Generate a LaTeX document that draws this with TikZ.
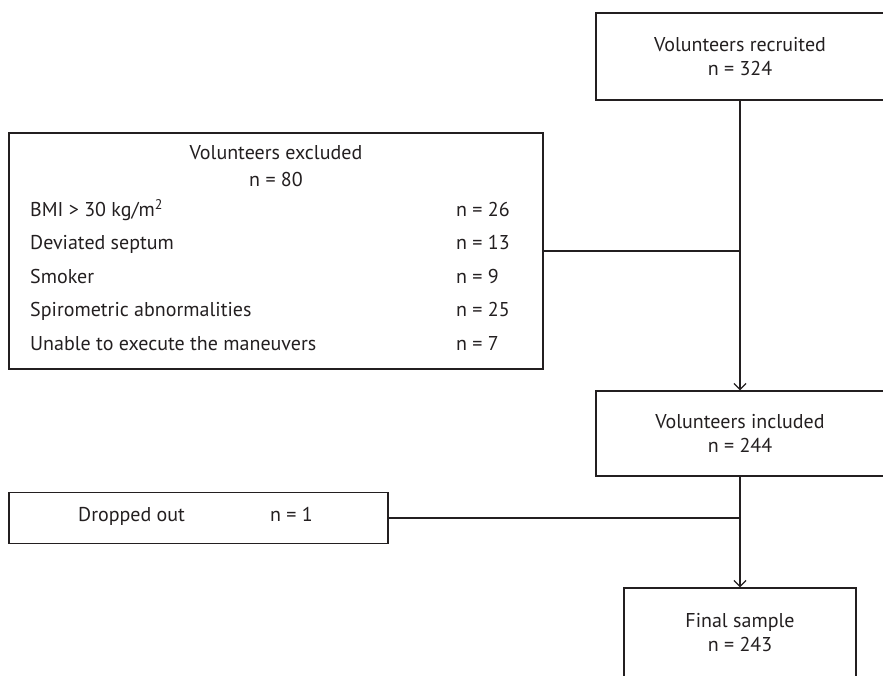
\documentclass[tikz,border=0pt]{standalone}
\usepackage{fontspec}
\setmainfont{PT Sans}
\usepackage{xcolor}
\definecolor{ink}{HTML}{231F20}
\usetikzlibrary{arrows.meta,positioning}

\begin{document}
\begin{tikzpicture}[
  x=1pt, y=-1pt,
  font=\fontsize{20}{24}\selectfont,
  box/.style={
    rectangle, draw=ink, line width=1.3pt,
    inner sep=0pt, align=center, text=ink
  },
  lbl/.style={inner sep=0pt, anchor=west, text=ink,
    text height=1.45ex, text depth=0pt},
  link/.style={line width=1.3pt, draw=ink},
  arr/.style={link, -{Straight Barb[length=6pt,width=12pt,line width=1.3pt]}}
]
\useasboundingbox (0,0) rectangle (883,676);
\clip (0,0) rectangle (883,676);

% main column
\node[box, minimum width=288pt, minimum height=87pt] (rec) at (740,56.5)
  {Volunteers recruited\\n = 324};
\node[box, minimum width=288pt, minimum height=85pt] (inc) at (740,433.5)
  {Volunteers included\\n = 244};
\node[box, minimum width=232pt, minimum height=90pt] (fin) at (740,633)
  {Final sample\\n = 243};

% excluded volunteers
\node[box, minimum width=534pt, minimum height=236pt] (exc) at (276,251) {};
\node[inner sep=0pt, text=ink] (exctitle) at (276,153) {Volunteers excluded};
\node[inner sep=0pt, text=ink] (excn) at (276,180) {n = 80};
\foreach \y/\why/\n [count=\i] in {
    213/{BMI > 30 kg/m\textsuperscript{2}}/26,
    246/Deviated septum/13,
    280/Smoker/9,
    313/Spirometric abnormalities/25,
    347/Unable to execute the maneuvers/7} {
  \node[lbl] (why\i) at (30,\y) {\why};
  \node[lbl] (n\i) at (456,\y) {n = \n};
}

% dropped out
\node[box, minimum width=379pt, minimum height=51pt] (drop) at (198.5,518) {};
\node[lbl] (droplbl) at (78,518) {Dropped out};
\node[lbl] (dropn) at (270,518) {n = 1};

% connectors
\draw[arr] (rec.south) -- (inc.north);
\draw[arr] (inc.south) -- (fin.north);
\draw[link] (exc.east) -- (exc.east -| rec.south);
\draw[link] (drop.east) -- (drop.east -| inc.south);
\end{tikzpicture}
\end{document}
